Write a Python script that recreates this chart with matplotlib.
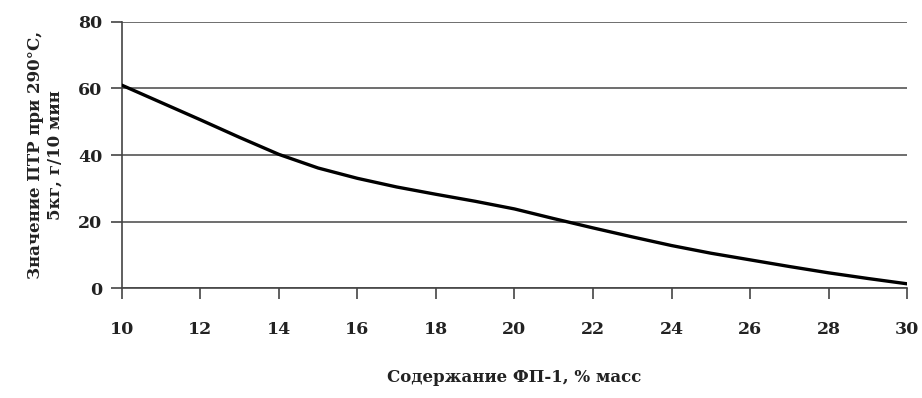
import numpy as np
import matplotlib
matplotlib.use("Agg")
import matplotlib.pyplot as plt

# данные
fp_content = [10, 11, 12, 13, 14, 15, 16, 17, 18, 19, 20, 21, 22, 23, 24, 25, 26, 27, 28, 29, 30]
ptr_value = [61, 55.8, 50.6, 45.3, 40.2, 36.1, 33.0, 30.4, 28.2, 26.1, 23.8, 20.9, 18.1, 15.4, 12.8, 10.5, 8.5, 6.5, 4.6, 2.9, 1.3]
x_ticks = [10, 12, 14, 16, 18, 20, 22, 24, 26, 28, 30]
y_ticks = [0, 20, 40, 60, 80]

plt.rcParams['font.family'] = ['DejaVu Serif']

fig = plt.figure(figsize=(9.22, 3.98), dpi=100)
ax = fig.add_axes([0.132, 0.276, 0.852, 0.669])

ax.plot(fp_content, ptr_value, color='black', linewidth=2.4, solid_capstyle='round', zorder=3)

ax.set_xlim(10, 30)
ax.set_ylim(0, 80)
ax.set_xticks(x_ticks)
ax.set_yticks(y_ticks)
ax.grid(axis='y', color='#555555', linewidth=1.2)
ax.set_axisbelow(True)

for s in ['top', 'right']:
    ax.spines[s].set_visible(False)
for s in ['left', 'bottom']:
    ax.spines[s].set_color('#444444')
    ax.spines[s].set_linewidth(1.2)
    ax.spines[s].set_zorder(2)

ax.tick_params(axis='x', direction='out', length=8, width=1.2, color='#444444', pad=16, labelsize=12.5)
ax.tick_params(axis='y', direction='out', length=8, width=1.2, color='#444444', pad=6, labelsize=12.5)
for lab in ax.get_xticklabels() + ax.get_yticklabels():
    lab.set_fontweight('bold')
    lab.set_color('#222222')

ax.set_xlabel('Содержание ФП-1, % масс', fontsize=12, fontweight='bold', color='#222222', labelpad=22)
ax.set_ylabel('Значение ПТР при 290°С,\n5кг, г/10 мин', fontsize=12, fontweight='bold', color='#222222', labelpad=10)

fig.savefig('out.png', dpi=100)
